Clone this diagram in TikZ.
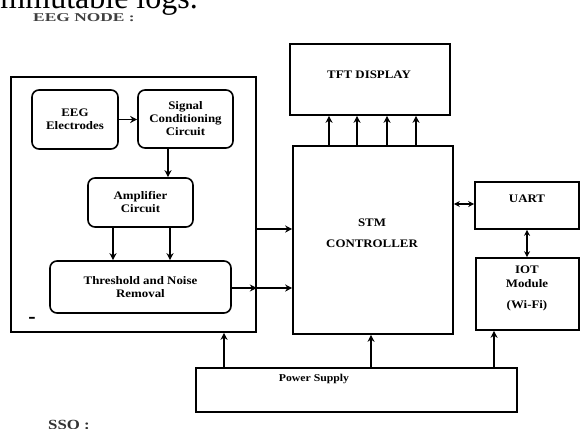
\documentclass[tikz,border=0pt]{standalone}
\usepackage{fontspec}
\setmainfont{Liberation Serif}
\newfontfamily\diag[FakeStretch=1.12]{Liberation Serif}
\usetikzlibrary{arrows.meta}
\begin{document}
\begin{tikzpicture}[x=1pt,y=-1pt,
  box/.style={draw, line width=1.6pt, inner sep=0pt},
  rbox/.style={box, rounded corners=7pt},
  lbl/.style={font=\diag\bfseries\fontsize{11.5}{13}\selectfont, align=center, inner sep=0pt},
  arr/.style={line width=1.2pt, -{Stealth[length=7pt,width=7pt]}},
  darr/.style={line width=1.2pt, {Stealth[length=6pt,width=6pt]}-{Stealth[length=6pt,width=6pt]}}]
\useasboundingbox (0,0) rectangle (580,428);
\clip (0,0) rectangle (580,428);

% header texts
\node[anchor=base east, inner sep=0pt, font=\fontsize{32}{36}\selectfont] (top) at (198,9) {immutable logs.};
\node[anchor=west, inner sep=0pt, text=black!75, font=\bfseries\fontsize{12}{14}\selectfont] (eegnode) at (33,17.5) {\scalebox{1.45}[1]{EEG NODE :}};
\node[anchor=base west, inner sep=0pt, text=black!80, font=\bfseries\fontsize{14}{16}\selectfont] (sso) at (48,429) {\scalebox{1.2}[1]{SSO :}};

% EEG node block
\node[box, minimum width=245pt, minimum height=255pt] (outer) at (133.5,204.5) {};
\node[rbox, lbl, minimum width=86pt, minimum height=59pt] (eeg) at (75,119.5) {EEG\\Electrodes};
\node[rbox, lbl, minimum width=95pt, minimum height=58pt] (sc) at (185.5,119) {Signal\\Conditioning\\Circuit};
\node[rbox, lbl, minimum width=105pt, minimum height=49pt] (amp) at (140.5,202.5) {Amplifier\\Circuit};
\node[rbox, lbl, minimum width=181pt, minimum height=52pt] (thr) at (140.5,287) {Threshold and Noise\\Removal};
\node[inner sep=0pt, font=\bfseries\fontsize{22}{24}\selectfont] (dash) at (32,320) {-};

% right side blocks
\node[box, minimum width=160pt, minimum height=71pt] (tft) at (370,79.5) {};
\node[lbl] (tfttxt) at (369,75) {TFT DISPLAY};
\node[box, minimum width=160pt, minimum height=188pt] (stm) at (373,240) {};
\node[lbl] (stmtxt) at (372,233.5) {STM\\[8pt]CONTROLLER};
\node[box, minimum width=104pt, minimum height=47pt] (uart) at (527,205.5) {};
\node[lbl] (uarttxt) at (527,199) {UART};
\node[box, minimum width=103pt, minimum height=72pt] (iot) at (527.5,294) {};
\node[lbl] (iottxt) at (527,288) {IOT\\[1pt]Module\\[8pt](Wi-Fi)};
\node[box, minimum width=321pt, minimum height=44pt] (ps) at (356.5,390) {};
\node[lbl, font=\diag\bfseries\fontsize{10.5}{12}\selectfont] (pstxt) at (314,379) {Power Supply};

% connectors
\draw[arr] (eeg.east) -- (sc.west |- eeg.east);
\draw[arr] (168,0 |- sc.south) -- (168,0 |- amp.north);
\draw[arr] (113,0 |- amp.south) -- (113,0 |- thr.north);
\draw[arr] (170,0 |- amp.south) -- (170,0 |- thr.north);
\draw[arr] (thr.east |- 0,288) -- (outer.east |- 0,288);
\draw[arr] (outer.east |- 0,288) -- (stm.west |- 0,288);
\draw[arr] (outer.east |- 0,229) -- (stm.west |- 0,229);
\foreach \xx in {329,357,387,416}
  \draw[arr] (\xx,0 |- stm.north) -- (\xx,0 |- tft.south);
\draw[darr] (stm.east |- 0,204) -- (uart.west |- 0,204);
\draw[darr] (527,0 |- uart.south) -- (527,0 |- iot.north);
\draw[arr] (224,0 |- ps.north) -- (224,0 |- outer.south);
\draw[arr] (371,0 |- ps.north) -- (371,0 |- stm.south);
\draw[arr] (494,0 |- ps.north) -- (494,0 |- iot.south);
\end{tikzpicture}
\end{document}
